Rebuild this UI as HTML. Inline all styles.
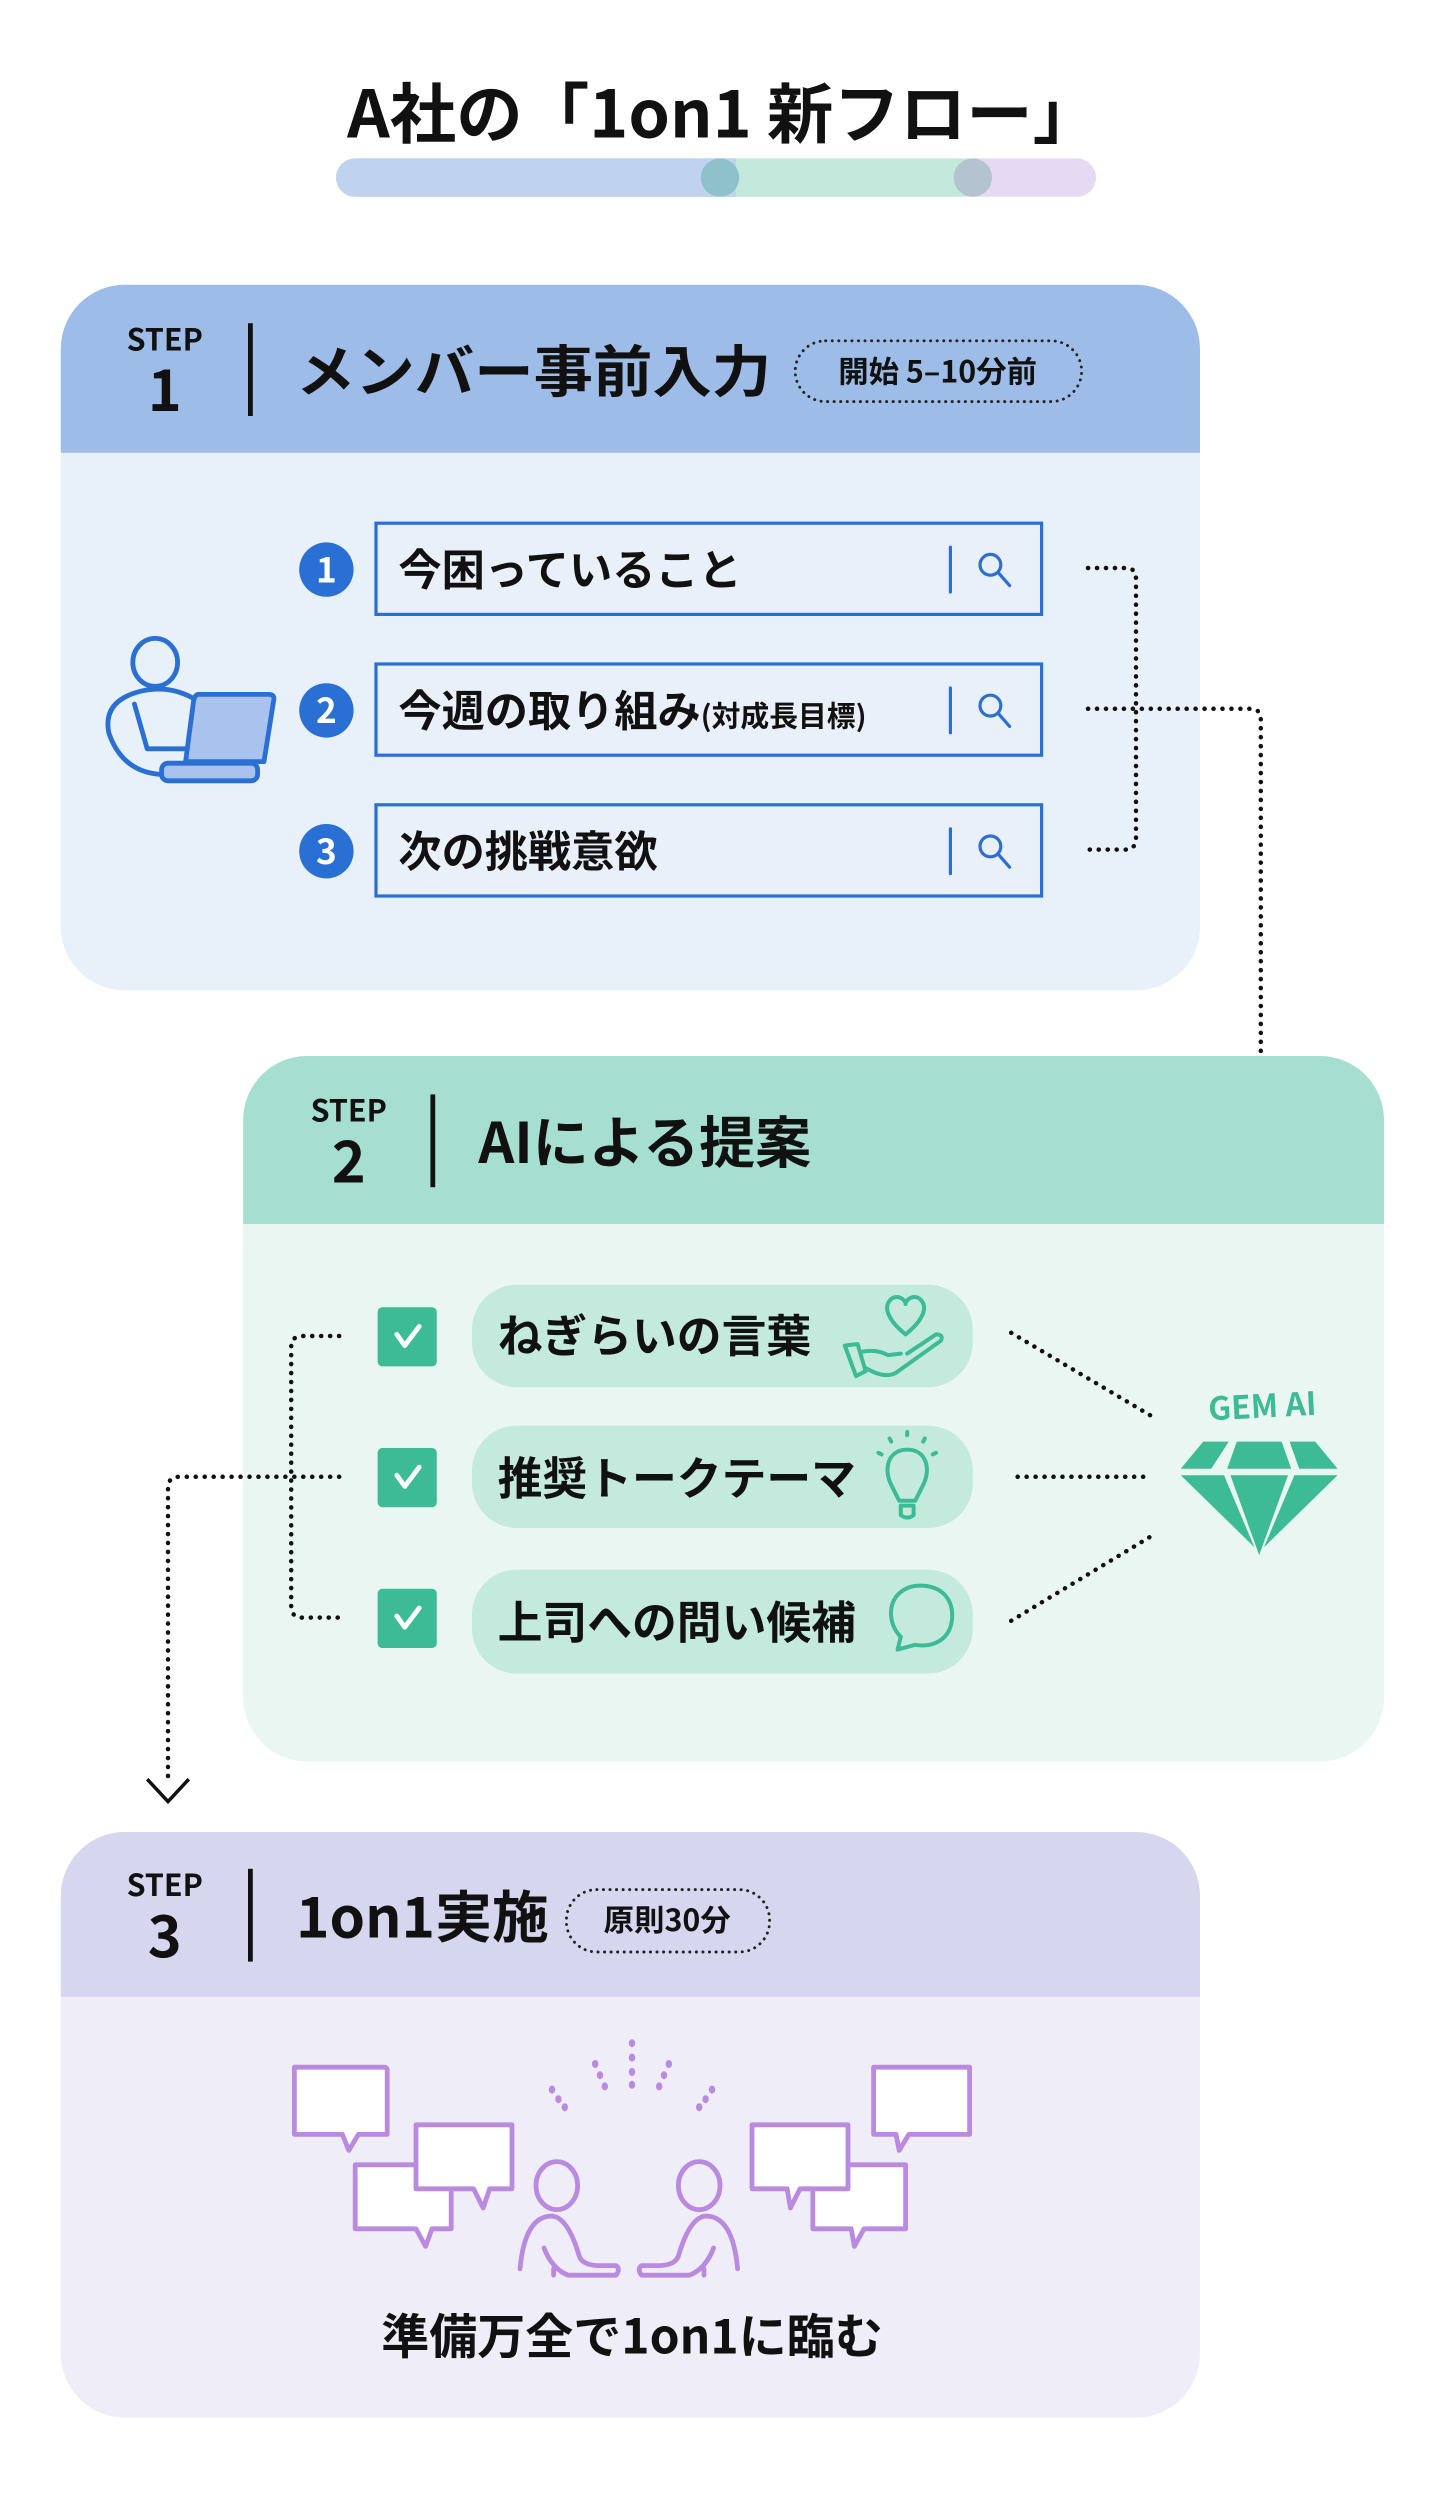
<!DOCTYPE html>
<html><head><meta charset="utf-8"><style>
html,body{margin:0;padding:0;background:#fff;}
svg{display:block;}
text{font-family:"Noto Sans CJK JP","Liberation Sans",sans-serif;font-weight:bold;}
</style></head><body>
<svg width="1440" height="2500" viewBox="0 0 900 1562.5" xmlns="http://www.w3.org/2000/svg">
<!-- Title -->
<text x="452" y="86" font-size="41" text-anchor="middle" fill="#111" textLength="470" lengthAdjust="spacingAndGlyphs">A社の「1on1 新フロー」</text>
<rect x="210" y="99" width="475" height="24" rx="12" fill="#e6d9f3"/>
<rect x="210" y="99" width="400" height="24" rx="12" fill="#c3e8dc"/>
<rect x="210" y="99" width="240" height="24" rx="12" fill="#bfd3ef"/>
<rect x="440" y="99" width="20" height="24" fill="#bfd3ef"/>
<ellipse cx="450" cy="111" rx="12" ry="12" fill="#8fc1cc"/>
<ellipse cx="608" cy="111" rx="12" ry="12" fill="#b3c4d0"/>

<!-- STEP 1 -->
<rect x="38" y="178" width="712" height="441" rx="40" fill="#e8f0fa"/>
<path d="M38 283 V218 a40 40 0 0 1 40 -40 H710 a40 40 0 0 1 40 40 V283 Z" fill="#9dbde8"/>
<text x="103" y="219" font-size="19" text-anchor="middle" fill="#111">STEP</text>
<text x="103" y="257" font-size="36" text-anchor="middle" fill="#111">1</text>
<rect x="155" y="202" width="3" height="58" fill="#111"/>
<text x="185" y="245" font-size="35" fill="#111" textLength="297" lengthAdjust="spacingAndGlyphs">メンバー事前入力</text>
<rect x="497" y="213" width="179" height="38" rx="19" fill="none" stroke="#222" stroke-width="1.8" stroke-dasharray="0.1 4" stroke-linecap="round"/>
<text x="586" y="239" font-size="19" text-anchor="middle" fill="#111">開始 5–10分前</text>

<!-- person laptop -->
<g fill="none" stroke="#2a6fd4" stroke-width="3" stroke-linecap="round" stroke-linejoin="round">
<ellipse cx="97" cy="414" rx="14" ry="15"/>
<path d="M120 436 Q105 428 88 432 Q64 438 68 458 Q76 482 100 484"/>
<path d="M84 440 L92 468 L118 468"/>
<path d="M124 434 L168 434 Q172 434 171 438 L165 476 L116 476 L121 438 Q122 434 124 434Z" fill="#a9c3ee"/>
<rect x="101" y="477" width="60" height="11" rx="4" fill="#a9c3ee"/>
</g>

<!-- inputs -->
<g>
<rect x="235" y="327" width="416" height="57" fill="#eaf0fa" stroke="#2a6fd4" stroke-width="2"/>
<rect x="235" y="415" width="416" height="57" fill="#eaf0fa" stroke="#2a6fd4" stroke-width="2"/>
<rect x="235" y="503" width="416" height="57" fill="#eaf0fa" stroke="#2a6fd4" stroke-width="2"/>
<circle cx="204" cy="356" r="17" fill="#2a6fd4"/><text x="204" y="364" font-size="22" text-anchor="middle" fill="#fff">1</text>
<circle cx="204" cy="444" r="17" fill="#2a6fd4"/><text x="204" y="452" font-size="22" text-anchor="middle" fill="#fff">2</text>
<circle cx="204" cy="532" r="17" fill="#2a6fd4"/><text x="204" y="540" font-size="22" text-anchor="middle" fill="#fff">3</text>
<text x="249" y="366" font-size="27" fill="#111">今困っていること</text>
<text x="249" y="454" font-size="27" fill="#111">今週の取り組み<tspan font-size="18">(対成長目標)</tspan></text>
<text x="249" y="542" font-size="27" fill="#111">次の挑戦意欲</text>
<g stroke="#2a6fd4" stroke-width="2" fill="none" stroke-linecap="round">
<line x1="594" y1="342" x2="594" y2="370"/><circle cx="619" cy="353" r="6.5"/><line x1="624" y1="358" x2="631" y2="366"/>
<line x1="594" y1="430" x2="594" y2="458"/><circle cx="619" cy="441" r="6.5"/><line x1="624" y1="446" x2="631" y2="454"/>
<line x1="594" y1="518" x2="594" y2="546"/><circle cx="619" cy="529" r="6.5"/><line x1="624" y1="534" x2="631" y2="542"/>
</g>
</g>

<!-- dotted connectors step1 -->
<g fill="none" stroke="#111" stroke-width="2.8" stroke-dasharray="0.1 5.5" stroke-linecap="round">
<path d="M680 355 H704 Q710 355 710 362 V524 Q710 531 703 531 H680"/>
<path d="M680 443 H782 Q788 443 788 450 V835"/>
</g>

<!-- STEP 2 -->
<rect x="152" y="660" width="713" height="441" rx="40" fill="#eaf6f2"/>
<path d="M152 765 V700 a40 40 0 0 1 40 -40 H825 a40 40 0 0 1 40 40 V765 Z" fill="#a6dfd0"/>
<text x="218" y="701" font-size="19" text-anchor="middle" fill="#111">STEP</text>
<text x="218" y="739" font-size="36" text-anchor="middle" fill="#111">2</text>
<rect x="269" y="684" width="3" height="58" fill="#111"/>
<text x="299" y="727" font-size="35" fill="#111" textLength="208" lengthAdjust="spacingAndGlyphs">AIによる提案</text>

<rect x="295" y="803" width="313" height="64" rx="28" fill="#c4eade"/>
<rect x="295" y="891" width="313" height="64" rx="28" fill="#c4eade"/>
<rect x="295" y="981" width="313" height="65" rx="28" fill="#c4eade"/>
<text x="311" y="845" font-size="28" fill="#111">ねぎらいの言葉</text>
<text x="311" y="934" font-size="28" fill="#111">推奨トークテーマ</text>
<text x="311" y="1024" font-size="28" fill="#111">上司への問い候補</text>
<g>
<rect x="236" y="817" width="37" height="37" rx="3" fill="#3dbb94"/>
<rect x="236" y="905" width="37" height="37" rx="3" fill="#3dbb94"/>
<rect x="236" y="993" width="37" height="37" rx="3" fill="#3dbb94"/>
<g stroke="#fff" stroke-width="3" fill="none" stroke-linecap="round" stroke-linejoin="round">
<path d="M248 834 L253 841 L262 829"/><path d="M248 922 L253 929 L262 917"/><path d="M248 1010 L253 1017 L262 1005"/>
</g>
</g>
<!-- icons -->
<g stroke="#3dbb94" stroke-width="2.5" fill="none" stroke-linecap="round" stroke-linejoin="round">
<path d="M566 834 C556 826 552 818 556 813 C560 808 566 812 566 815 C566 812 572 808 576 813 C580 818 576 826 566 834Z"/>
<path d="M528 841 L535 860 L541 857 L536 840 Z"/><path d="M538 845 Q548 843 555 847 L563 846 M541 855 Q553 862 560 858 L588 838 Q590 834 585 834 L567 846"/>
<path d="M567 906 C555 906 552 918 557 928 L562 938 L572 938 L577 928 C582 918 579 906 567 906Z"/>
<path d="M563 941 H571 V947 Q567 950 563 947Z"/>
<path d="M567 895 v2 M556 899 l1 2 M578 899 l-1 2 M549 908 l2 1 M585 908 l-2 1"/>
<path d="M575 991 C590 991 596 1001 595 1012 C594 1024 584 1030 572 1028 L561 1031 L563 1023 C556 1016 555 1005 560 998 C564 993 569 991 575 991Z"/>
</g>
<!-- GEM AI -->
<text x="789" y="886" font-size="20" text-anchor="middle" fill="#3dbb94" transform="rotate(-3 789 880)">GEM AI</text>
<g fill="#3dbb94">
<polygon points="752,901 768,901 757,918 738,918"/>
<polygon points="773,901 801,901 807,918 767,918"/>
<polygon points="806,901 822,901 836,918 812,918"/>
<polygon points="738,922 765,922 784,967"/>
<polygon points="769,922 805,922 787,972"/>
<polygon points="809,922 836,922 790,967"/>
</g>
<!-- dotted connectors step2 -->
<g fill="none" stroke="#111" stroke-width="2.8" stroke-dasharray="0.1 5.5" stroke-linecap="round">
<path d="M632 833 L723 887"/>
<path d="M636 923 H718"/>
<path d="M632 1013 L723 958"/>
<path d="M212 835 H189 Q182 835 182 842 V1004 Q182 1011 189 1011 H212"/>
<path d="M212 923 H112 Q105 923 105 930 V1115"/>
</g>
<path d="M92 1112 L105 1126 L118 1112" fill="none" stroke="#111" stroke-width="2.2"/>

<!-- STEP 3 -->
<rect x="38" y="1145" width="712" height="366" rx="40" fill="#efeef8"/>
<path d="M38 1248 V1185 a40 40 0 0 1 40 -40 H710 a40 40 0 0 1 40 40 V1248 Z" fill="#d6d6ee"/>
<text x="103" y="1185" font-size="19" text-anchor="middle" fill="#111">STEP</text>
<text x="103" y="1223" font-size="36" text-anchor="middle" fill="#111">3</text>
<rect x="155" y="1168" width="3" height="58" fill="#111"/>
<text x="185" y="1211" font-size="35" fill="#111" textLength="158" lengthAdjust="spacingAndGlyphs">1on1実施</text>
<rect x="354" y="1181" width="127" height="39" rx="19" fill="none" stroke="#222" stroke-width="1.8" stroke-dasharray="0.1 4" stroke-linecap="round"/>
<text x="417" y="1207" font-size="19" text-anchor="middle" fill="#111">原則30分</text>

<!-- illustration -->
<g stroke="#b98ae0" stroke-width="3" fill="#fff" stroke-linejoin="round" stroke-linecap="round">
<path d="M184 1292 H240 Q242 1292 242 1294 V1334 H224 L218 1344 L214 1334 H184 Z"/>
<path d="M222 1353 H282 V1393 H270 L266 1404 L260 1393 H222 Z"/>
<path d="M260 1328 H320 V1368 H306 L302 1380 L296 1368 H260 Z"/>
<path d="M546 1292 H606 V1334 H568 L562 1344 L560 1334 H546 Z"/>
<path d="M508 1353 H566 V1393 H540 L534 1404 L532 1393 H508 Z"/>
<path d="M470 1328 H530 V1368 H500 L494 1380 L492 1368 H470 Z"/>
<ellipse cx="348" cy="1366" rx="13" ry="15" fill="none"/>
<ellipse cx="437" cy="1366" rx="13" ry="15" fill="none"/>
<path d="M325 1418 Q328 1385 345 1385 Q355 1386 362 1410 Q364 1416 375 1416 L385 1416 Q388 1418 385 1422 L355 1422 Q345 1418 340 1405 M346 1418 L346 1422" fill="none"/>
<path d="M461 1418 Q458 1385 441 1385 Q431 1386 424 1410 Q422 1416 411 1416 L401 1416 Q398 1418 401 1422 L431 1422 Q441 1418 446 1405 M440 1418 L440 1422" fill="none"/>
</g>
<g fill="#b98ae0">
<ellipse cx="395" cy="1277" rx="2" ry="2.5"/><ellipse cx="395" cy="1286" rx="2" ry="2.5"/><ellipse cx="395" cy="1295" rx="2" ry="2.5"/><ellipse cx="395" cy="1303" rx="2" ry="2.5"/>
<ellipse cx="372" cy="1290" rx="2" ry="2.5"/><ellipse cx="375" cy="1297" rx="2" ry="2.5"/><ellipse cx="378" cy="1304" rx="2" ry="2.5"/>
<ellipse cx="418" cy="1290" rx="2" ry="2.5"/><ellipse cx="415" cy="1297" rx="2" ry="2.5"/><ellipse cx="412" cy="1304" rx="2" ry="2.5"/>
<ellipse cx="345" cy="1306" rx="2" ry="2.5"/><ellipse cx="349" cy="1312" rx="2" ry="2.5"/><ellipse cx="353" cy="1317" rx="2" ry="2.5"/>
<ellipse cx="445" cy="1306" rx="2" ry="2.5"/><ellipse cx="441" cy="1312" rx="2" ry="2.5"/><ellipse cx="437" cy="1317" rx="2" ry="2.5"/>
</g>
<text x="395" y="1471" font-size="30" text-anchor="middle" fill="#111">準備万全で1on1に臨む</text>
</svg>
</body></html>
